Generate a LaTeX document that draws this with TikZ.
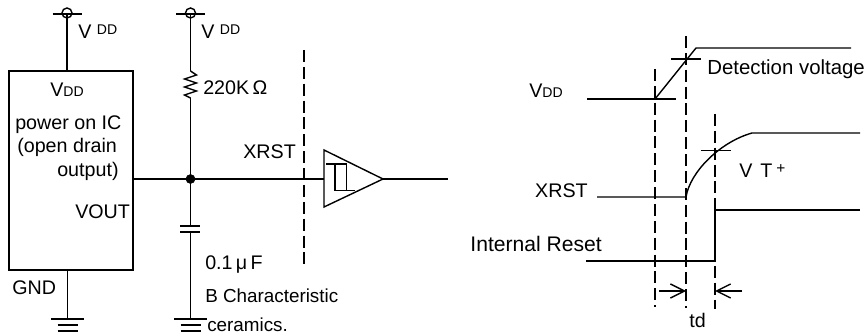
\documentclass[tikz,border=0pt]{standalone}
\usepackage{fontspec}
\setmainfont{Liberation Sans}
\usetikzlibrary{calc,arrows.meta}
\def\vddsym(#1){\draw[wire] (#1) circle (5); \draw[wire] ($(#1)+(-14.5,1)$) -- ($(#1)+(14.5,1)$);}
\def\gndsym(#1){\draw[wire] ($(#1)+(-16.5,0)$) -- ($(#1)+(16.5,0)$); \draw[wire] ($(#1)+(-10,6)$) -- ($(#1)+(10,6)$); \draw[wire] ($(#1)+(-10,12)$) -- ($(#1)+(10,12)$);}
\def\supply{V\hspace{0.28em}\raisebox{3pt}{\fontsize{10}{12}\selectfont DD}}
\def\vddtext{V{\fontsize{10}{12}\selectfont DD}}
\tikzset{
	wire/.style={line width=1pt},
	guide/.style={line width=1pt, dash pattern=on 8.5pt off 3.5pt},
	lbl/.style={anchor=base west, inner sep=0pt, font=\fontsize{14}{16}\selectfont},
	lblr/.style={lbl, anchor=base east}
}

\begin{document}
\begin{tikzpicture}[x=0.025cm, y=-0.025cm]
			%%%%% START %%%%%
			\useasboundingbox (0, 0) rectangle (866, 333);
			
			% circuit
			\node[draw, wire, minimum width=3.1cm, minimum height=4.975cm, inner sep=0pt] (icbox) at (71, 170.5) {};
			\coordinate (supA) at (67, 13);
			\coordinate (supB) at (190.5, 13);
			\coordinate (gndA) at (67.5, 319);
			\coordinate (gndB) at (190.5, 319);
			\coordinate (resTop) at (190.5, 71);
			\coordinate (resBot) at (190.5, 98);
			\coordinate (jct) at (190.5, 179);
			\coordinate (capTop) at (190.5, 226);
			\coordinate (capBot) at (190.5, 232);
			\coordinate (bufIn) at (324, 179);
			\coordinate (bufTip) at (383, 179);
			\coordinate (bufOut) at (448, 179);
			
			\vddsym(supA);
			\vddsym(supB);
			\draw[wire] (67, 14) -- (icbox.north -| 67, 14);
			\draw[wire] (190.5, 14) -- (resTop);
			\draw[wire] (resTop) -- (196.5, 75) -- (184.5, 79) -- (196.5, 83) -- (184.5, 87) -- (196.5, 91) -- (184.5, 95) -- (resBot);
			\draw[wire] (resBot) -- (jct);
			\draw[wire] (icbox.east |- jct) -- (jct) -- (bufIn);
			\draw[fill=black] (jct) circle (4.5);
			\draw[wire] (jct) -- (capTop);
			\draw[wire] (180, 226) -- (200, 226);
			\draw[wire] (180, 232) -- (200, 232);
			\draw[wire] (capBot) -- (gndB);
			\draw[wire] (icbox.south -| gndA) -- (gndA);
			\gndsym(gndA);
			\gndsym(gndB);
			
			\draw[guide] (304, 50) -- (304, 268);
			
			% buffer
			\draw[wire] (bufIn) -- (324, 150) -- (bufTip) -- (324, 207) -- cycle;
			\draw[wire] (326, 164) -- (346.5, 164) -- (346.5, 190.5);
			\draw[wire] (335, 164) -- (335, 190.5) -- (355, 190.5);
			\draw[wire] (bufTip) -- (bufOut);
			
			% timing
			\coordinate (vddRise) at (655, 99);
			\coordinate (vddTop) at (696, 48);
			\coordinate (rstRise) at (686, 197);
			\coordinate (rstTop) at (752, 133);
			\coordinate (intRise) at (715, 261);
			\coordinate (intTop) at (715, 210);
			
			\draw[wire] (587, 99) -- (676, 99);
			\draw[wire] (vddRise) -- (vddTop) -- (851, 48);
			\draw[wire] (671, 59) -- (701, 59);
			\draw[wire] (597, 197) -- (rstRise) .. controls (690, 172) and (720, 142) .. (rstTop) -- (860, 133);
			\draw[wire] (701, 150.5) -- (731, 150.5);
			\draw[wire] (586, 261) -- (intRise) -- (intTop) -- (860, 210);
			
			\draw[guide] (655, 69) -- (655, 307);
			\draw[guide] (686, 36) -- (686, 308);
			\draw[guide] (715, 114) -- (715, 309);
			
			\draw[wire, -{Straight Barb[length=10pt, width=10pt]}] (659, 291) -- (686, 291);
			\draw[wire, -{Straight Barb[length=10pt, width=10pt]}] (742, 291) -- (715, 291);
			
			% labels
			\node[lbl] (vddA) at (78, 39) {\supply};
			\node[lbl] (vddB) at (201, 39) {\supply};
			\node[lbl] (vddIc) at (50, 97) {\vddtext};
			\node[lbl] (icName) at (15, 130) {power on IC};
			\node[lbl] (icOpen) at (17, 153) {(open drain};
			\node[lbl] (icOut) at (57, 177) {output)};
			\node[lbl] (vout) at (75, 219) {VOUT};
			\node[lbl] (gnd) at (12, 294) {GND};
			\node[lbl] (res) at (203, 95) {220K\,Ω};
			\node[lbl] (xrstA) at (243, 159) {XRST};
			\node[lbl] (cap) at (205, 270) {0.1\,μ\,F};
			\node[lbl, font=\fontsize{13.4}{16}\selectfont] (capB) at (205, 303) {B Characteristic};
			\node[lbl, font=\fontsize{13.4}{16}\selectfont] (capC) at (207, 331) {ceramics.};
			\node[lblr] (vddT) at (563, 98) {\vddtext};
			\node[lbl, font=\fontsize{14.5}{16}\selectfont] (det) at (707, 75) {Detection voltage};
			\node[lbl] (vt) at (739, 178) {V\hspace{0.4em}T\hspace{0.2em}\raisebox{3pt}{\fontsize{11}{12}\selectfont +}};
			\node[lblr] (xrstB) at (588, 198) {XRST};
			\node[lblr, font=\fontsize{15}{16}\selectfont] (intr) at (602, 252) {Internal Reset};
			\node[lbl] (td) at (689, 327) {td};
			
			%%%%% END %%%%%
		\end{tikzpicture}
\end{document}
